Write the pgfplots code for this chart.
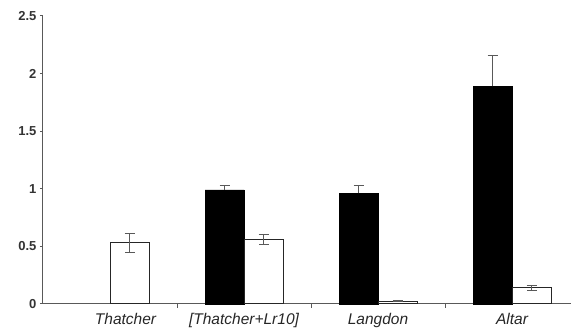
\documentclass[border=0pt]{standalone}
\usepackage{pgfplots}
\pgfplotsset{compat=1.18}
\usepackage{fontspec}
\setmainfont{Liberation Sans}
\begin{document}
\begin{tikzpicture}
\begin{axis}[
  name=ax,
  scale only axis, width=528pt, height=288pt,
  xmin=-0.5, xmax=3.44, ymin=0, ymax=2.5,
  axis x line*=bottom, axis y line*=left,
  axis line style={draw=black!65, line width=1pt, -},
  ytick={0,0.5,1,1.5,2,2.5},
  yticklabel style={font=\fontsize{13}{13}\selectfont\bfseries, text=black!80},
  /pgf/number format/assume math mode=true,
  xtick={0.116,1,2,3},
  xticklabels={Thatcher,{[Thatcher+Lr10]},Langdon,Altar},
  xticklabel style={font=\fontsize{15.5}{15.5}\selectfont\itshape, text=black!85, yshift=-3pt},
  major x tick style={draw=none},
  minor xtick={0.5,1.5,2.5},
  tick align=outside,
  major tick length=3pt, minor tick length=4pt,
  tick style={draw=black!65, line width=1pt},
  clip=false,
]
\addplot[ybar, bar width=39pt, bar shift=0pt, fill=black, draw=black,
  error bars/.cd, y dir=plus, y explicit,
  error bar style={black!65, line width=1pt},
  error mark options={black!65, line width=1pt, mark size=5pt, rotate=90}]
  coordinates {(0.8545,0.99) +- (0,0.04) (1.8545,0.96) +- (0,0.07) (2.8545,1.89) +- (0,0.27)};
\addplot[ybar, bar width=39pt, bar shift=0pt, fill=white, draw=black!85, line width=1pt,
  error bars/.cd, y dir=both, y explicit,
  error bar style={black!65, line width=1pt},
  error mark options={black!65, line width=1pt, mark size=5pt, rotate=90}]
  coordinates {(0.1455,0.53) +- (0,0.085) (1.1455,0.56) +- (0,0.04) (2.1455,0.025) +- (0,0.004) (3.1455,0.14) +- (0,0.02)};
\end{axis}
\pgfresetboundingbox
\path[use as bounding box] ([shift={(-43pt,-32pt)}]ax.south west) rectangle ([shift={(0pt,16pt)}]ax.north east);
\end{tikzpicture}
\end{document}
